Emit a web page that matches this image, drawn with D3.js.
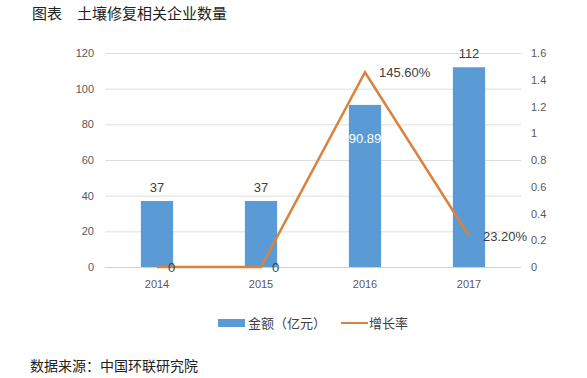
<!DOCTYPE html>
<html><head><meta charset="utf-8">
<script src="https://cdn.jsdelivr.net/npm/d3@7"></script>
<style>body{margin:0;background:#fff;}svg{display:block;font-family:"Noto Sans CJK SC","Microsoft YaHei",sans-serif;}</style>
</head><body>
<script>
const years = ["2014","2015","2016","2017"];
const amounts = [37, 37, 90.89, 112];
const amountLabels = ["37","37","90.89","112"];
const growth = [0, 0, 1.456, 0.232];
const growthLabels = ["0","0","145.60%","23.20%"];
const leftTicks = [0,20,40,60,80,100,120];
const rightTicks = [0,0.2,0.4,0.6,0.8,1,1.2,1.4,1.6];
const title = "图表　土壤修复相关企业数量";
const source = "数据来源：中国环联研究院";

(function(){
const W=587,H=378;
const svg=d3.select("body").append("svg").attr("width",W).attr("height",H);
const pL=105,pR=521,pT=53,pB=267;
const x=d3.scaleBand().domain(years).range([pL,pR]).paddingInner(0.69).paddingOuter(0.345);
const y=d3.scaleLinear().domain([0,120]).range([pB,pT]);
const y2=d3.scaleLinear().domain([0,1.6]).range([pB,pT]);
const fontTick="Liberation Sans, Arial, sans-serif";

svg.append("text").attr("x",32).attr("y",19).attr("font-size",15).attr("fill","#222").text(title);

// grid
svg.append("g").selectAll("line").data(leftTicks).join("line")
 .attr("x1",pL).attr("x2",pR).attr("y1",d=>y(d)+0.5).attr("y2",d=>y(d)+0.5)
 .attr("stroke",d=>d===0?"#d0d0d0":"#dedede").attr("stroke-width",1);

// left axis
const la=svg.append("g").attr("transform",`translate(${pL-11},0)`).call(d3.axisLeft(y).tickValues(leftTicks).tickSize(0).tickPadding(0));
la.select(".domain").remove();
la.selectAll("text").attr("font-family",fontTick).attr("font-size",11).attr("fill","#595959");
// right axis
const ra=svg.append("g").attr("transform",`translate(${pR+10},0)`).call(d3.axisRight(y2).tickValues(rightTicks).tickSize(0).tickPadding(0).tickFormat(d=>String(+d.toFixed(1))));
ra.select(".domain").remove();
ra.selectAll("text").attr("font-family",fontTick).attr("font-size",11).attr("fill","#595959");
// x axis
const xa=svg.append("g").attr("transform",`translate(0,${pB+13})`).call(d3.axisBottom(x).tickSize(0).tickPadding(0));
xa.select(".domain").remove();
xa.selectAll("text").attr("font-family",fontTick).attr("font-size",11).attr("fill","#595959");

// bars
svg.append("g").selectAll("rect").data(years).join("rect")
 .attr("x",d=>x(d)).attr("width",x.bandwidth())
 .attr("y",(d,i)=>y(amounts[i])).attr("height",(d,i)=>pB-y(amounts[i]))
 .attr("fill","#5b9bd5");

// bar labels
svg.append("g").selectAll("text").data(years).join("text")
 .attr("x",d=>x(d)+x.bandwidth()/2)
 .attr("y",(d,i)=> i===2 ? y(amounts[i])+38 : y(amounts[i])-9)
 .attr("text-anchor","middle").attr("font-family",fontTick).attr("font-size",13)
 .attr("fill",(d,i)=>i===2?"#ffffff":"#404040")
 .text((d,i)=>amountLabels[i]);

// line
const line=d3.line().x((d,i)=>x(years[i])+x.bandwidth()/2).y(d=>y2(d));
svg.append("path").datum(growth).attr("d",line).attr("fill","none")
 .attr("stroke","#d9823f").attr("stroke-width",2.5);

svg.append("g").selectAll("text").data(growth).join("text")
 .attr("x",(d,i)=>x(years[i])+x.bandwidth()/2+(i<2?11:14))
 .attr("y",d=>y2(d)+5)
 .attr("font-family",fontTick).attr("font-size",13).attr("fill","#404040")
 .text((d,i)=>growthLabels[i]);

// legend
const lg=svg.append("g");
lg.append("rect").attr("x",218).attr("y",319).attr("width",27).attr("height",8).attr("fill","#5b9bd5");
lg.append("text").attr("x",248).attr("y",328).attr("font-size",13).attr("fill","#404040").text("金额（亿元）");
lg.append("line").attr("x1",341).attr("x2",368).attr("y1",323).attr("y2",323).attr("stroke","#d9823f").attr("stroke-width",2);
lg.append("text").attr("x",369).attr("y",328).attr("font-size",13).attr("fill","#404040").text("增长率");

svg.append("text").attr("x",30).attr("y",371).attr("font-size",14).attr("fill","#222").text(source);
})();
</script>
</body></html>
